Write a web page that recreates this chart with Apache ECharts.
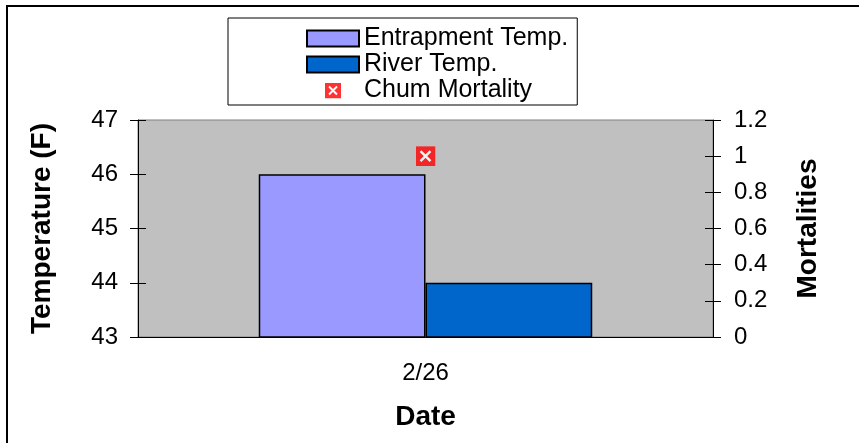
<!DOCTYPE html>
<html>
<head>
<meta charset="utf-8">
<script src="https://cdn.jsdelivr.net/npm/echarts@6/dist/echarts.min.js"></script>
<style>
  html, body { margin: 0; padding: 0; background: #fff; }
  #chart { width: 859px; height: 443px; }
</style>
</head>
<body>
<div id="chart"></div>
<script>
// values
const categories = ["2/26"];
const entrapmentTemp = [46];
const riverTemp = [44];
const chumMortality = [1];
const tempTicks = { min: 43, max: 47, interval: 1 };
const mortTicks = { min: 0, max: 1.2, interval: 0.2 };

const FONT = "Liberation Sans, Arial, sans-serif";

// red square with a white cross, as in the original marker
const markerSvg =
  "<svg xmlns='http://www.w3.org/2000/svg' width='20' height='20'>" +
  "<rect width='20' height='20' fill='#ff0000'/>" +
  "<path d='M5 5L15 15M15 5L5 15' stroke='#ffffff' stroke-width='2.4'/></svg>";
const markerIcon = "image://data:image/svg+xml;utf8," + encodeURIComponent(markerSvg);

const chart = echarts.init(document.getElementById("chart"), null, { renderer: "canvas" });

const tickLabel = { color: "#000", fontFamily: FONT, fontSize: 24 };
const nameStyle = { color: "#000", fontFamily: FONT, fontSize: 28, fontWeight: "bold" };

function overlayAxis(position, t) {
  // second copy of the axis only for the inward half of the crossing ticks
  return {
    type: "value",
    position: position,
    min: t.min, max: t.max, interval: t.interval,
    axisLine: { show: false },
    axisTick: { show: true, inside: true, length: 8, lineStyle: { color: "#000", width: 1 } },
    axisLabel: { show: false },
    splitLine: { show: false }
  };
}

chart.setOption({
  backgroundColor: "#fff",
  animation: false,
  textStyle: { fontFamily: FONT },
  graphic: [{
    type: "rect",
    shape: { x: 7, y: 6, width: 880, height: 460 },
    style: { fill: "none", stroke: "#000", lineWidth: 2 },
    silent: true
  }],
  legend: {
    orient: "vertical",
    left: 228,
    top: 18,
    backgroundColor: "#fff",
    borderColor: "#000",
    borderWidth: 1,
    borderRadius: 0,
    padding: [8, 9, 2, 78],
    itemWidth: 52,
    itemHeight: 16,
    itemGap: 1,
    textStyle: { color: "#000", fontFamily: FONT, fontSize: 25, lineHeight: 24 },
    data: [
      { name: "Entrapment Temp.", icon: "rect" },
      { name: "River Temp.", icon: "rect" },
      { name: "Chum Mortality", icon: markerIcon }
    ]
  },
  grid: {
    left: 138,
    right: 146,
    top: 120,
    bottom: 106,
    show: true,
    backgroundColor: "#c0c0c0",
    borderColor: "#808080",
    borderWidth: 1
  },
  xAxis: {
    type: "category",
    data: categories,
    name: "Date",
    nameLocation: "middle",
    nameGap: 66,
    nameTextStyle: nameStyle,
    axisLine: { lineStyle: { color: "#000", width: 1 } },
    axisTick: { show: false },
    axisLabel: Object.assign({ margin: 24 }, tickLabel),
    splitLine: { show: false }
  },
  yAxis: [
    {
      type: "value",
      position: "left",
      min: tempTicks.min, max: tempTicks.max, interval: tempTicks.interval,
      name: "Temperature (F)",
      nameLocation: "middle",
      nameGap: 82,
      nameTextStyle: nameStyle,
      axisLine: { show: true, lineStyle: { color: "#000", width: 1 } },
      axisTick: { show: true, length: 8, lineStyle: { color: "#000", width: 1 } },
      axisLabel: Object.assign({ margin: 20 }, tickLabel),
      splitLine: { show: false }
    },
    {
      type: "value",
      position: "right",
      min: mortTicks.min, max: mortTicks.max, interval: mortTicks.interval,
      name: "Mortalities",
      nameLocation: "middle",
      nameGap: 81,
      nameRotate: 90,
      nameTextStyle: nameStyle,
      axisLine: { show: true, lineStyle: { color: "#000", width: 1 } },
      axisTick: { show: true, length: 8, lineStyle: { color: "#000", width: 1 } },
      axisLabel: Object.assign({ margin: 21 }, tickLabel),
      splitLine: { show: false }
    },
    overlayAxis("left", tempTicks),
    overlayAxis("right", mortTicks)
  ],
  series: [
    {
      name: "Entrapment Temp.",
      type: "bar",
      yAxisIndex: 0,
      data: entrapmentTemp,
      barGap: "0%",
      barCategoryGap: "42%",
      itemStyle: { color: "#9999ff", borderColor: "#000", borderWidth: 1.5 }
    },
    {
      name: "River Temp.",
      type: "bar",
      yAxisIndex: 0,
      data: riverTemp,
      barGap: "0%",
      barCategoryGap: "42%",
      itemStyle: { color: "#0066cc", borderColor: "#000", borderWidth: 1.5 }
    },
    {
      name: "Chum Mortality",
      type: "scatter",
      yAxisIndex: 1,
      data: chumMortality,
      symbol: markerIcon,
      symbolSize: 20,
      z: 5
    }
  ]
});
</script>
</body>
</html>
